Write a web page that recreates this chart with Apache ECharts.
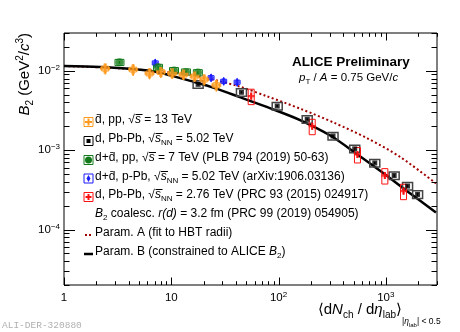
<!DOCTYPE html>
<html>
<head>
<meta charset="utf-8">
<script src="https://cdn.jsdelivr.net/npm/echarts@6/dist/echarts.min.js"></script>
<style>
  html, body { margin: 0; padding: 0; background: #fff; }
  #main { width: 460px; height: 332px; }
</style>
</head>
<body>
<div id="main"></div>
<script>
// axis ranges and decade ticks
var xMin = 1, xMax = 3000;
var yMin = 2e-5, yMax = 3e-2;
var xDecades = [1, 10, 100, 1000];
var yDecades = [1e-5, 1e-4, 1e-3, 1e-2];

// anti-d, pp 13 TeV
var pp13X = [2.42, 4.41, 6.27, 8.0, 10.2, 13.0, 16.5, 20.3, 26.3];
var pp13Y = [0.0107, 0.0104, 0.0093, 0.0097, 0.0093, 0.0090, 0.0085, 0.0078, 0.0066];
var pp13Stat = [0.16, 0.17, 0.16, 0.16, 0.15, 0.15, 0.15, 0.16, 0.17];
var pp13Sys = [0.07, 0.07, 0.07, 0.07, 0.07, 0.07, 0.07, 0.07, 0.07];

// d, Pb-Pb 5.02 TeV
var pb502X = [17.8, 45.1, 97.2, 185, 322, 513, 789, 1196, 1595, 1978];
var pb502Y = [0.00676, 0.00537, 0.0036, 0.00245, 0.00151, 0.00104, 0.00069, 0.00048, 0.000353, 0.000277];
var pb502Stat = [0.03, 0.03, 0.03, 0.03, 0.03, 0.03, 0.03, 0.04, 0.04, 0.05];
var pb502Sys = [0.11, 0.11, 0.11, 0.11, 0.11, 0.11, 0.11, 0.11, 0.11, 0.11];

// d+anti-d, pp 7 TeV
var pp7X = [3.29, 7.53, 10.6, 13.7, 17.7];
var pp7Y = [0.0128, 0.0111, 0.0101, 0.0097, 0.0095];
var pp7Stat = [0.04, 0.04, 0.04, 0.04, 0.04];
var pp7Sys = [0.09, 0.09, 0.09, 0.09, 0.09];

// d+anti-d, p-Pb 5.02 TeV
var pPbX = [7.09, 23.5, 30.8, 41.1];
var pPbY = [0.0126, 0.0082, 0.0074, 0.0072];
var pPbStat = [0.12, 0.11, 0.11, 0.11];
var pPbSys = [0.06, 0.06, 0.06, 0.06];

// d, Pb-Pb 2.76 TeV
var pb276X = [55.6, 206, 544, 979, 1463];
var pb276Y = [0.00481, 0.00201, 0.000885, 0.00048, 0.000305];
var pb276Stat = [0.1, 0.1, 0.1, 0.1, 0.1];
var pb276Sys = [0.22, 0.22, 0.22, 0.22, 0.22];

// coalescence curves
var paramAX = [1, 3.34, 9.79, 18.7, 41.1, 78.4, 160.6, 328.7, 674, 1380, 2934];
var paramAY = [0.0115, 0.01075, 0.00957, 0.0084, 0.00647, 0.00477, 0.00332, 0.00222, 0.00141, 0.000811, 0.000381];
var paramBX = [1, 2.17, 4.14, 6.37, 9.79, 15.05, 25.8, 44.2, 84.2, 160.6, 306, 544, 898, 1595, 2934];
var paramBY = [0.0115, 0.0112, 0.0106, 0.0100, 0.00878, 0.00748, 0.00602, 0.00463, 0.00337, 0.00238, 0.00152, 0.000885, 0.000543, 0.000302, 0.000164];

var cOrange = '#ff9a1f', cGreen = '#127a18', cBlue = '#1a1aff', cRed = '#ff1010', cDark = '#a00000';
var plusPath = 'path://M3,0H6V3H9V6H6V9H3V6H0V3H3Z';
var font = 'Liberation Sans, Arial, sans-serif';

function zip(a, b) { return a.map(function (v, i) { return [v, b[i]]; }); }
function zip4(a, b, c, d) { return a.map(function (v, i) { return [v, b[i], c[i], d[i]]; }); }

function isDecade(v) {
  var e = Math.log10(v);
  return Math.abs(e - Math.round(e)) < 0.01;
}

// systematic boxes + stat bars
function errRender(color, boxColor, boxW, lw) {
  return function (params, api) {
    var x = api.value(0), y = api.value(1), st = api.value(2), sy = api.value(3);
    var c = api.coord([x, y]);
    var sTop = api.coord([x, y * (1 + st)])[1], sBot = api.coord([x, y * (1 - st)])[1];
    var bTop = api.coord([x, y * (1 + sy)])[1], bBot = api.coord([x, y * (1 - sy)])[1];
    return {
      type: 'group',
      children: [
        { type: 'rect', shape: { x: c[0] - boxW / 2, y: bTop, width: boxW, height: bBot - bTop },
          style: { fill: 'none', stroke: boxColor, lineWidth: lw } },
        { type: 'line', shape: { x1: c[0], y1: sTop, x2: c[0], y2: sBot },
          style: { stroke: color, lineWidth: 1.5 } }
      ]
    };
  };
}

// ROOT style ticks on all four sides
function tickRender(params, api) {
  var cs = params.coordSys;
  var left = cs.x, right = cs.x + cs.width, top = cs.y, bottom = cs.y + cs.height;
  var kids = [];
  function ln(x1, y1, x2, y2) {
    return { type: 'line', shape: { x1: x1, y1: y1, x2: x2, y2: y2 }, style: { stroke: '#000', lineWidth: 1 } };
  }
  xDecades.forEach(function (d) {
    for (var m = 1; m <= 9; m++) {
      var v = d * m;
      if (v < xMin || v > xMax) continue;
      var px = Math.round(api.coord([v, 1e-3])[0]) + 0.5;
      var len = m === 1 ? 7.5 : 3.8;
      kids.push(ln(px, bottom, px, bottom - len), ln(px, top, px, top + len));
    }
  });
  yDecades.forEach(function (d) {
    for (var m = 1; m <= 9; m++) {
      var v = d * m;
      if (v < yMin || v > yMax) continue;
      var py = Math.round(api.coord([10, v])[1]) + 0.5;
      var len = m === 1 ? 11 : 5.5;
      kids.push(ln(left, py, left + len, py), ln(right, py, right - len, py));
    }
  });
  return { type: 'group', children: kids };
}

var myChart = echarts.init(document.getElementById('main'));

var rt = {
  r: { fontSize: 12, fontFamily: font, color: '#000', lineHeight: 16 },
  i: { fontSize: 12, fontFamily: font, fontStyle: 'italic', color: '#000', lineHeight: 16 },
  sub: { fontSize: 8, fontFamily: font, color: '#000', lineHeight: 9, verticalAlign: 'bottom' },
  sup: { fontSize: 8, fontFamily: font, color: '#000', lineHeight: 9, verticalAlign: 'top' }
};

function legText(y, txt) {
  return { type: 'text', left: 95, top: y - 8, z: 100,
    style: { text: txt, rich: rt, fill: '#000', verticalAlign: 'top' } };
}
function legBox(y, color) {
  return { type: 'rect', shape: { x: 84, y: y - 4.5, width: 9, height: 9 }, z: 100,
    style: { fill: 'none', stroke: color, lineWidth: 1 } };
}

var rows = [122, 141, 160, 178.5, 197, 216, 235, 254];

var graphics = [
  // legend
  legBox(rows[0], cOrange),
  { type: 'rect', shape: { x: 87.5, y: rows[0] - 3.5, width: 2, height: 7 }, style: { fill: cOrange }, z: 101 },
  { type: 'rect', shape: { x: 85, y: rows[0] - 1, width: 7, height: 2 }, style: { fill: cOrange }, z: 101 },
  legText(rows[0], '{r|d̄, pp, √}{i|s̅}{r| = 13 TeV}'),
  legBox(rows[1], '#000'),
  { type: 'rect', shape: { x: 86.5, y: rows[1] - 2, width: 4, height: 4 }, style: { fill: '#000' }, z: 101 },
  legText(rows[1], '{r|d, Pb-Pb, √}{i|s̅}{sub|NN}{r| = 5.02 TeV}'),
  legBox(rows[2], cGreen),
  { type: 'circle', shape: { cx: 88.5, cy: rows[2], r: 3.5 }, style: { fill: cGreen }, z: 101 },
  legText(rows[2], '{r|d+d̄, pp, √}{i|s̅}{r| = 7 TeV (PLB 794 (2019) 50-63)}'),
  legBox(rows[3], cBlue),
  { type: 'polygon', shape: { points: [[88.5, rows[3] - 3.5], [90.5, rows[3]], [88.5, rows[3] + 3.5], [86.5, rows[3]]] }, style: { fill: cBlue }, z: 101 },
  legText(rows[3], '{r|d+d̄, p-Pb, √}{i|s̅}{sub|NN}{r| = 5.02 TeV (arXiv:1906.03136)}'),
  legBox(rows[4], cRed),
  { type: 'rect', shape: { x: 87.5, y: rows[4] - 3, width: 2, height: 6 }, style: { fill: cRed }, z: 101 },
  { type: 'rect', shape: { x: 85.5, y: rows[4] - 1, width: 6, height: 2 }, style: { fill: cRed }, z: 101 },
  legText(rows[4], '{r|d, Pb-Pb, √}{i|s̅}{sub|NN}{r| = 2.76 TeV (PRC 93 (2015) 024917)}'),
  legText(rows[5], '{i|B}{sub|2}{r| coalesc. }{i|r(d)}{r| = 3.2 fm (PRC 99 (2019) 054905)}'),
  { type: 'line', shape: { x1: 85, y1: rows[6], x2: 93, y2: rows[6] }, z: 100,
    style: { stroke: cDark, lineWidth: 2, lineDash: [2, 2] } },
  legText(rows[6], '{r|Param. A (fit to HBT radii)}'),
  { type: 'line', shape: { x1: 84, y1: rows[7], x2: 93, y2: rows[7] }, z: 100,
    style: { stroke: '#000', lineWidth: 2.5 } },
  legText(rows[7], '{r|Param. B (constrained to ALICE }{i|B}{sub|2}{r|)}'),

  // header texts
  { type: 'text', left: 292, top: 55, z: 100,
    style: { text: 'ALICE Preliminary', font: 'bold 13.5px ' + font, fill: '#000' } },
  { type: 'text', left: 299, top: 72, z: 100,
    style: { text: '{i|p}{sub|T}{r| / }{i|A}{r| = 0.75 GeV/}{i|c}', rich: {
      r: { fontSize: 11.5, fontFamily: font, lineHeight: 16 },
      i: { fontSize: 11.5, fontFamily: font, fontStyle: 'italic', lineHeight: 16 },
      sub: { fontSize: 8, fontFamily: font, lineHeight: 9, verticalAlign: 'bottom' }
    }, fill: '#000' } },

  // axis titles
  { type: 'text', x: 25, y: 33, rotation: Math.PI / 2, z: 100,
    style: {
      text: '{i|B}{s|2}{r| (GeV}{p|2}{r|/}{i|c}{p|3}{r|)}',
      align: 'right', verticalAlign: 'middle',
      rich: {
        r: { fontSize: 15, fontFamily: font, lineHeight: 20 },
        i: { fontSize: 15, fontFamily: font, fontStyle: 'italic', lineHeight: 20 },
        s: { fontSize: 10, fontFamily: font, lineHeight: 10, verticalAlign: 'bottom' },
        p: { fontSize: 10, fontFamily: font, lineHeight: 10, verticalAlign: 'top' }
      }
    } },
  { type: 'text', x: 402, y: 310, z: 100,
    style: {
      text: '{r|⟨d}{i|N}{s|ch}{r| / d}{i|η}{s|lab}{r|⟩}',
      align: 'right', verticalAlign: 'middle',
      rich: {
        r: { fontSize: 15, fontFamily: font, lineHeight: 20 },
        i: { fontSize: 15, fontFamily: font, fontStyle: 'italic', lineHeight: 20 },
        s: { fontSize: 10, fontFamily: font, lineHeight: 10, verticalAlign: 'bottom' }
      }
    } },
  { type: 'text', x: 402, y: 322, z: 100,
    style: {
      text: '{r||}{i|η}{s|lab}{r|| < 0.5}',
      align: 'left', verticalAlign: 'middle',
      rich: {
        r: { fontSize: 8.5, fontFamily: font, lineHeight: 12 },
        i: { fontSize: 8.5, fontFamily: font, fontStyle: 'italic', lineHeight: 12 },
        s: { fontSize: 6, fontFamily: font, lineHeight: 6, verticalAlign: 'bottom' }
      }
    } },

  // figure id
  { type: 'text', left: 2, top: 320, z: 100,
    style: { text: 'ALI-DER-320880', font: '9.5px Liberation Mono, monospace', fill: '#b0b0b0' } }
];

var option = {
  animation: false,
  backgroundColor: '#fff',
  grid: { left: 64, right: 23, top: 33, bottom: 47, show: true, borderColor: '#000', borderWidth: 1, backgroundColor: 'transparent' },
  xAxis: {
    type: 'log', logBase: 10, min: xMin, max: xMax,
    axisLine: { show: false }, axisTick: { show: false }, splitLine: { show: false },
    axisLabel: {
      margin: 6, showMinLabel: true, showMaxLabel: false,
      formatter: function (v) {
        if (!isDecade(v)) return '';
        var e = Math.round(Math.log10(v));
        if (e === 0) return '{b|1}';
        if (e === 1) return '{b|10}';
        return '{b|10}{s|' + e + '}';
      },
      rich: {
        b: { fontSize: 11.5, fontFamily: font, color: '#000', lineHeight: 14 },
        s: { fontSize: 8, fontFamily: font, color: '#000', lineHeight: 8, verticalAlign: 'top' }
      }
    }
  },
  yAxis: {
    type: 'log', logBase: 10, min: yMin, max: yMax,
    axisLine: { show: false }, axisTick: { show: false }, splitLine: { show: false },
    axisLabel: {
      margin: 4, showMinLabel: false, showMaxLabel: false,
      formatter: function (v) {
        if (!isDecade(v)) return '';
        var e = Math.round(Math.log10(v));
        return '{b|10}{s|−' + Math.abs(e) + '}';
      },
      rich: {
        b: { fontSize: 11.5, fontFamily: font, color: '#000', lineHeight: 14 },
        s: { fontSize: 8, fontFamily: font, color: '#000', lineHeight: 8, verticalAlign: 'top' }
      }
    }
  },
  graphic: graphics,
  series: [
    { type: 'line', data: zip(paramAX, paramAY), showSymbol: false, smooth: 0.3, z: 2,
      lineStyle: { color: cDark, width: 2, type: [2, 2.5] } },
    { type: 'line', data: zip(paramBX, paramBY), showSymbol: false, smooth: 0.3, z: 2,
      lineStyle: { color: '#000', width: 2.5 } },

    { type: 'custom', data: zip4(pb502X, pb502Y, pb502Stat, pb502Sys), z: 3,
      renderItem: errRender('#000', '#444', 10, 1.5) },
    { type: 'custom', data: zip4(pb276X, pb276Y, pb276Stat, pb276Sys), z: 3,
      renderItem: errRender(cRed, cRed, 6, 1) },
    { type: 'custom', data: zip4(pPbX, pPbY, pPbStat, pPbSys), z: 3,
      renderItem: errRender(cBlue, cBlue, 6, 1) },
    { type: 'custom', data: zip4(pp7X, pp7Y, pp7Stat, pp7Sys), z: 3,
      renderItem: errRender(cGreen, cGreen, 9, 1) },
    { type: 'custom', data: zip4(pp13X, pp13Y, pp13Stat, pp13Sys), z: 3,
      renderItem: errRender(cOrange, cOrange, 7, 1) },

    { type: 'scatter', data: zip(pb502X, pb502Y), symbol: 'rect', symbolSize: 5, z: 4,
      itemStyle: { color: '#000' } },
    { type: 'scatter', data: zip(pb276X, pb276Y), symbol: plusPath, symbolSize: 7, z: 4,
      itemStyle: { color: cRed } },
    { type: 'scatter', data: zip(pPbX, pPbY), symbol: 'diamond', symbolSize: [6, 9], z: 4,
      itemStyle: { color: cBlue } },
    { type: 'scatter', data: zip(pp7X, pp7Y), symbol: 'circle', symbolSize: 8, z: 4,
      itemStyle: { color: cGreen } },
    { type: 'scatter', data: zip(pp13X, pp13Y), symbol: plusPath, symbolSize: 10, z: 4,
      itemStyle: { color: cOrange } },

    { type: 'custom', data: [[10, 1e-3]], z: 5, silent: true, renderItem: tickRender }
  ]
};

myChart.setOption(option);
</script>
</body>
</html>
